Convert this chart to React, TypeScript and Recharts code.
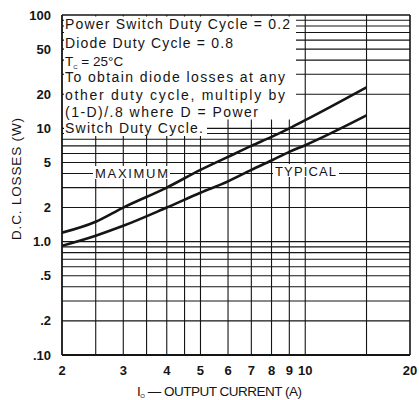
import React from 'react';
import { LineChart, Line, XAxis, YAxis, ReferenceLine } from 'recharts';

// Output current (A)
const currents = [2, 2.5, 3, 4, 5, 6, 7, 8, 9, 10, 15];
// D.C. losses (W)
const maximumLosses = [1.2, 1.5, 2.0, 3.0, 4.3, 5.6, 7.0, 8.4, 10, 11.8, 23];
const typicalLosses = [0.92, 1.13, 1.38, 2.0, 2.7, 3.4, 4.3, 5.2, 6.2, 7.1, 13];

const xTicks = [2, 3, 4, 5, 6, 7, 8, 9, 10, 20];
const yTicks = [0.1, 0.2, 0.5, 1, 2, 5, 10, 20, 50, 100];
const yTickLabels = ['.10', '.2', '.5', '1.0', '2', '5', '10', '20', '50', '100'];
const xGrid = [2.5, 3, 3.5, 4, 4.5, 5, 6, 7, 8, 9, 10, 15, 20];
const yGrid = [0.2, 0.3, 0.4, 0.5, 0.6, 0.7, 0.8, 0.9, 1, 2, 3, 4, 5, 6, 7, 8, 9, 10, 20, 30, 40, 50, 60, 70, 80, 90, 100];

const noteLines = [
  'Power Switch Duty Cycle = 0.2',
  'Diode Duty Cycle = 0.8',
  '',
  'To obtain diode losses at any',
  'other duty cycle, multiply by',
  '(1-D)/.8 where D = Power',
  'Switch Duty Cycle.',
];
const noteWidths = [225, 168, 50, 220, 220, 193, 138];

const data = currents.map((x, i) => ({ x, max: maximumLosses[i], typ: typicalLosses[i] }));

const FONT = '"Liberation Sans", Arial, Helvetica, sans-serif';
const INK = '#151515';

const Overlay = () => {
  const baselines = [29, 47.5, 66, 82, 99.5, 116.5, 133];
  return (
    <svg
      width={419}
      height={400}
      style={{ position: 'absolute', left: 0, top: 0, pointerEvents: 'none' }}
    >
      <g fontFamily={FONT} fill={INK}>
        <rect x={64} y={16.5} width={232} height={103} fill="#fff" />
        <rect x={64} y={118} width={143} height={18} fill="#fff" />
        {noteLines.map((t, i) =>
          i === 2 ? (
            <text key={i} x={65} y={baselines[i]} fontSize={13.5}>
              T<tspan fontSize={6} dy={3}>C</tspan>
              <tspan dy={-3}> = 25°C</tspan>
            </text>
          ) : (
            <text key={i} x={65} y={baselines[i]} fontSize={14} textLength={noteWidths[i]} lengthAdjust="spacing">
              {t}
            </text>
          )
        )}
        <rect x={93} y={166} width={77} height={13} fill="#fff" />
        <text x={95} y={177.5} fontSize={13} textLength={73} lengthAdjust="spacing">MAXIMUM</text>
        <rect x={273} y={164} width={66} height={13} fill="#fff" />
        <text x={275} y={175.5} fontSize={13} textLength={61} lengthAdjust="spacing">TYPICAL</text>
        <text
          x={16}
          y={179}
          fontSize={13.5}
          textAnchor="middle"
          transform="rotate(-90 16 179)"
          dominantBaseline="central"
          textLength={122}
          lengthAdjust="spacing"
        >
          D.C. LOSSES (W)
        </text>
        <text x={137} y={396} fontSize={13.5} textLength={165} lengthAdjust="spacing">
          I<tspan fontSize={6} dy={2}>O</tspan>
          <tspan dy={-2}> — OUTPUT CURRENT (A)</tspan>
        </text>
      </g>
    </svg>
  );
};

export default function App() {
  return (
    <div style={{ position: 'absolute', left: 0, top: 0, width: 419, height: 400, background: '#fff' }}>
      <LineChart width={419} height={400} data={data} margin={{ top: 15, right: 9, bottom: 0, left: 0 }}>
        <XAxis
          dataKey="x"
          type="number"
          scale="log"
          domain={[2, 20]}
          ticks={xTicks}
          allowDataOverflow
          height={45}
          tickSize={0}
          tickMargin={11}
          axisLine={{ stroke: INK, strokeWidth: 1.8 }}
          tick={{ fill: INK, fontSize: 13, fontWeight: 'bold', fontFamily: FONT }}
        />
        <YAxis
          type="number"
          scale="log"
          domain={[0.1, 100]}
          ticks={yTicks}
          allowDataOverflow
          width={62}
          tickSize={0}
          tickMargin={11}
          axisLine={{ stroke: INK, strokeWidth: 1.8 }}
          tickFormatter={(v: number) => yTickLabels[yTicks.indexOf(v)] ?? String(v)}
          tick={{ fill: INK, fontSize: 13, fontWeight: 'bold', fontFamily: FONT }}
        />
        {xGrid.map((v) => (
          <ReferenceLine key={'x' + v} x={v} stroke={INK} strokeWidth={v === 20 ? 1.6 : 1.1} />
        ))}
        {yGrid.map((v) => (
          <ReferenceLine key={'y' + v} y={v} stroke={INK} strokeWidth={v === 100 ? 1.6 : 1.1} />
        ))}
        <Line dataKey="max" type="monotone" stroke={INK} strokeWidth={2.6} dot={false} isAnimationActive={false} />
        <Line dataKey="typ" type="monotone" stroke={INK} strokeWidth={2.6} dot={false} isAnimationActive={false} />
      </LineChart>
      <Overlay />
    </div>
  );
}
